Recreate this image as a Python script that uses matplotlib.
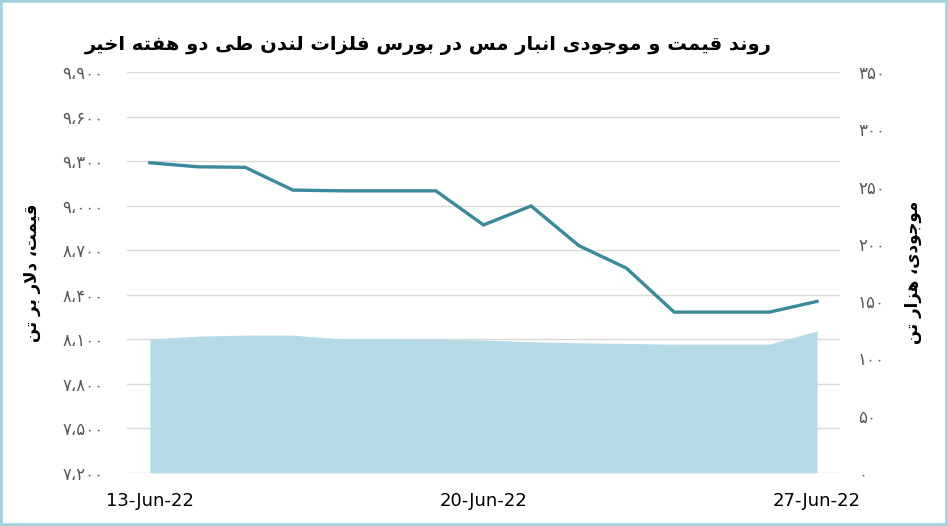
import matplotlib.pyplot as plt
from matplotlib.patches import Rectangle

# روزها (۱۳ تا ۲۷ ژوئن ۲۰۲۲)
dates = ['13-Jun-22', '14-Jun-22', '15-Jun-22', '16-Jun-22', '17-Jun-22',
         '18-Jun-22', '19-Jun-22', '20-Jun-22', '21-Jun-22', '22-Jun-22',
         '23-Jun-22', '24-Jun-22', '25-Jun-22', '26-Jun-22', '27-Jun-22']
# قیمت مس، دلار بر تن
price = [9289, 9262, 9258, 9105, 9100, 9100, 9100, 8870, 8998, 8731,
         8579, 8283, 8283, 8283, 8355]
# موجودی انبار، هزار تن
stock = [116.8, 119.4, 120.3, 120.3, 117.0, 117.0, 116.8, 116.0, 114.5, 113.6,
         113.0, 112.4, 112.4, 112.4, 124.1]

price_ticks = list(range(7200, 9901, 300))
stock_ticks = list(range(0, 351, 50))

title = 'روند قیمت و موجودی انبار مس در بورس فلزات لندن طی دو هفته اخیر'
left_label = 'قیمت، دلار بر تن'
right_label = 'موجودی، هزار تن'

# matplotlib حروف عربی را به هم نمی‌چسباند، پس دستی شکل می‌دهیم
FORMS = {
    'ا': '\uFE8D\uFE8E', 'ب': '\uFE8F\uFE90\uFE91\uFE92',
    'ت': '\uFE95\uFE96\uFE97\uFE98', 'ج': '\uFE9D\uFE9E\uFE9F\uFEA0',
    'خ': '\uFEA5\uFEA6\uFEA7\uFEA8', 'د': '\uFEA9\uFEAA',
    'ر': '\uFEAD\uFEAE', 'ز': '\uFEAF\uFEB0',
    'س': '\uFEB1\uFEB2\uFEB3\uFEB4', 'ط': '\uFEC1\uFEC2\uFEC3\uFEC4',
    'ف': '\uFED1\uFED2\uFED3\uFED4', 'ق': '\uFED5\uFED6\uFED7\uFED8',
    'ل': '\uFEDD\uFEDE\uFEDF\uFEE0', 'م': '\uFEE1\uFEE2\uFEE3\uFEE4',
    'ن': '\uFEE5\uFEE6\uFEE7\uFEE8', 'ه': '\uFEE9\uFEEA\uFEEB\uFEEC',
    'و': '\uFEED\uFEEE', 'ی': '\uFEEF\uFEF0\uFEF3\uFEF4',
}


def fa(text):
    out = []
    i = 0
    n = len(text)
    while i < n:
        c = text[i]
        if c not in FORMS:
            out.append(c)
            i += 1
            continue
        prev = text[i - 1] if i > 0 else ''
        prev_joins = prev in FORMS and len(FORMS[prev]) == 4
        if c == 'ل' and i + 1 < n and text[i + 1] == 'ا':
            out.append('\uFEFC' if prev_joins else '\uFEFB')
            i += 2
            continue
        nxt = text[i + 1] if i + 1 < n else ''
        f = FORMS[c]
        can_next = len(f) == 4 and nxt in FORMS
        if prev_joins and can_next:
            g = f[3]
        elif prev_joins:
            g = f[1]
        elif can_next:
            g = f[2]
        else:
            g = f[0]
        out.append(g)
        i += 1
    return ''.join(reversed(out))


def fa_num(v):
    s = f'{v:,}'
    return s.translate(str.maketrans('0123456789,', '۰۱۲۳۴۵۶۷۸۹،'))


plt.rcParams['font.family'] = ['DejaVu Sans']

fig = plt.figure(figsize=(9.48, 5.26), dpi=100)
ax = fig.add_axes([0.134, 0.101, 0.752, 0.762])
ax2 = ax.twinx()
ax3 = ax.twinx()

x = list(range(len(dates)))

ax2.fill_between(x, stock, 0, color='#b4dbe5', linewidth=0)
ax3.plot(x, price, color='#3b8a9c', linewidth=2.4, solid_joinstyle='miter')

ax.set_ylim(7200, 9900)
ax3.set_ylim(7200, 9900)
ax2.set_ylim(0, 350)
ax.set_xlim(-0.48, 14.48)

ax.set_yticks(price_ticks)
ax.set_yticklabels([fa_num(v) for v in price_ticks], color='#595959', fontsize=12)
ax2.set_yticks(stock_ticks)
ax2.set_yticklabels([fa_num(v) for v in stock_ticks], color='#595959', fontsize=12)
ax3.set_yticks([])

ax.set_xticks(x[::7])
ax.set_xticklabels(dates[::7], fontsize=13)

ax.grid(True, axis='y', color='#d9d9d9', linewidth=1)
ax.tick_params(length=0, pad=17)
ax.tick_params(axis='x', pad=14)
ax2.tick_params(length=0, pad=13)

for a in (ax, ax2, ax3):
    for s in a.spines.values():
        s.set_visible(False)

ax.set_ylabel(fa(left_label), fontsize=12, fontweight='bold', labelpad=15)
ax2.set_ylabel(fa(right_label), fontsize=12, fontweight='bold', rotation=90, labelpad=14)

fig.text(0.452, 0.914, fa(title), ha='center', va='center', fontsize=14, fontweight='bold')

fig.patches.append(Rectangle((0, 0), 1, 1, transform=fig.transFigure, fill=False,
                             edgecolor='#a3d1de', linewidth=4))

fig.savefig('out.png', dpi=100)
